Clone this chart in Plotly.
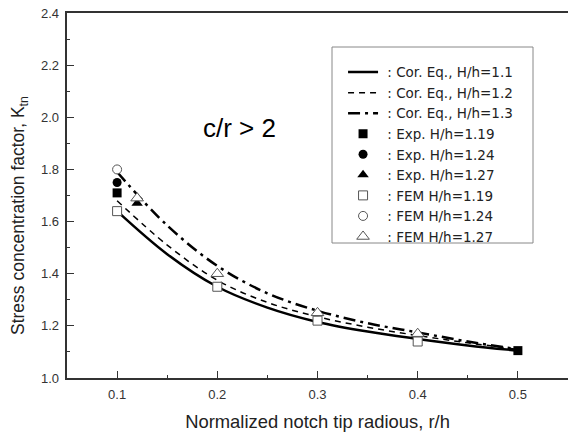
import plotly.graph_objects as go

# Correlation equation curves
x_cor = [0.1, 0.15, 0.2, 0.25, 0.3, 0.35, 0.4, 0.45, 0.5]
cor_11 = [1.64, 1.475, 1.35, 1.27, 1.215, 1.178, 1.15, 1.125, 1.105]
cor_12 = [1.68, 1.51, 1.375, 1.29, 1.235, 1.195, 1.163, 1.135, 1.11]
cor_13 = [1.79, 1.585, 1.43, 1.325, 1.258, 1.21, 1.175, 1.14, 1.11]

# Experimental data
exp119_x = [0.1, 0.5]
exp119_y = [1.71, 1.105]
exp124_x = [0.1]
exp124_y = [1.75]
exp127_x = [0.12]
exp127_y = [1.67]

# FEM data
fem119_x = [0.1, 0.2, 0.3, 0.4]
fem119_y = [1.64, 1.35, 1.22, 1.14]
fem124_x = [0.1]
fem124_y = [1.80]
fem127_x = [0.12, 0.2, 0.3, 0.4]
fem127_y = [1.69, 1.40, 1.25, 1.17]

# tick labels
x_ticks = [0.1, 0.2, 0.3, 0.4, 0.5]
x_ticklabels = ["0.1", "0.2", "0.3", "0.4", "0.5"]
y_ticks = [1.0, 1.2, 1.4, 1.6, 1.8, 2.0, 2.2, 2.4]
y_ticklabels = ["1.0", "1.2", "1.4", "1.6", "1.8", "2.0", "2.2", "2.4"]

NB = "\u00a0"

fig = go.Figure()
fig.add_trace(go.Scatter(x=x_cor, y=cor_11, mode="lines", name=NB + ": Cor. Eq., H/h=1.1",
                         line=dict(color="black", width=2.5, shape="spline")))
fig.add_trace(go.Scatter(x=x_cor, y=cor_12, mode="lines", name=NB + ": Cor. Eq., H/h=1.2",
                         line=dict(color="black", width=1.5, dash="6px,5px", shape="spline")))
fig.add_trace(go.Scatter(x=x_cor, y=cor_13, mode="lines", name=NB + ": Cor. Eq., H/h=1.3",
                         line=dict(color="black", width=2.5, dash="12px,5px,3px,5px", shape="spline")))

mk = dict(size=9, color="black")
fig.add_trace(go.Scatter(x=exp119_x, y=exp119_y, mode="markers", name=NB + ": Exp. H/h=1.19",
                         marker=dict(symbol="square", **mk)))
fig.add_trace(go.Scatter(x=exp124_x, y=exp124_y, mode="markers", name=NB + ": Exp. H/h=1.24",
                         marker=dict(symbol="circle", **mk)))
fig.add_trace(go.Scatter(x=exp127_x, y=exp127_y, mode="markers", name=NB + ": Exp. H/h=1.27",
                         marker=dict(symbol="triangle-up", size=10, color="black")))

om = dict(color="white", line=dict(color="#555555", width=1))
fig.add_trace(go.Scatter(x=fem119_x, y=fem119_y, mode="markers", name=NB + ": FEM H/h=1.19",
                         marker=dict(symbol="square", size=9, **om)))
fig.add_trace(go.Scatter(x=fem124_x, y=fem124_y, mode="markers", name=NB + ": FEM H/h=1.24",
                         marker=dict(symbol="circle", size=9, **om)))
fig.add_trace(go.Scatter(x=fem127_x, y=fem127_y, mode="markers", name=NB + ": FEM H/h=1.27",
                         marker=dict(symbol="triangle-up", size=11, **om)))

fig.add_annotation(x=0.222, y=1.96, text="c/r > 2", showarrow=False,
                   font=dict(size=26, color="black", family="Liberation Sans"))

# y-axis title as annotation for exact placement
fig.add_annotation(xref="paper", yref="paper", x=(19 - 67) / 501, y=(378 - 216) / 365,
                   xanchor="center", yanchor="middle", textangle=-90, showarrow=False,
                   text="Stress concentration factor, K<sub>tn</sub>",
                   font=dict(size=17.5, color="#222222", family="Liberation Sans"))

# legend frame
fig.add_shape(type="rect", xref="paper", yref="paper",
              x0=(332 - 67) / 501, x1=(533 - 67) / 501,
              y0=(378 - 243) / 365, y1=(378 - 47) / 365,
              line=dict(color="#888888", width=1), fillcolor="white", layer="above")

fig.update_layout(
    width=568, height=438,
    margin=dict(l=67, r=0, t=13, b=60),
    paper_bgcolor="white", plot_bgcolor="white",
    font=dict(family="Liberation Sans", color="#333333"),
    showlegend=True,
    legend=dict(x=0.551, y=0.880, xanchor="left", yanchor="top",
                borderwidth=0, bgcolor="rgba(0,0,0,0)",
                font=dict(size=13.5, color="#222222", family="DejaVu Sans"),
                itemwidth=30, tracegroupgap=0),
)
fig.update_xaxes(range=[0.05, 0.55], tickvals=x_ticks, ticktext=x_ticklabels,
                 ticks="inside", ticklen=7, tickwidth=1.2, tickcolor="#333333",
                 minor=dict(tickvals=[0.15, 0.25, 0.35, 0.45], ticks="inside", ticklen=3, tickcolor="#333333"),
                 showline=True, linecolor="#333333", linewidth=1.5, mirror=True,
                 showgrid=False, zeroline=False, automargin=False, ticklabelstandoff=4,
                 tickfont=dict(size=13, color="#333333"),
                 title=dict(text="Normalized notch tip radious, r/h", font=dict(size=18.4, color="#222222"), standoff=14))
fig.update_yaxes(range=[1.0, 2.4], tickvals=y_ticks, ticktext=[t + NB for t in y_ticklabels],
                 ticks="inside", ticklen=7, tickwidth=1.2, tickcolor="#333333",
                 minor=dict(tickvals=[1.1, 1.3, 1.5, 1.7, 1.9, 2.1, 2.3], ticks="inside", ticklen=3, tickcolor="#333333"),
                 showline=True, linecolor="#333333", linewidth=1.5,
                 showgrid=False, zeroline=False, automargin=False,
                 tickfont=dict(size=13, color="#333333"))

fig.write_html("out.html", config={"displayModeBar": False},
               post_script="document.body.style.margin='0';")
